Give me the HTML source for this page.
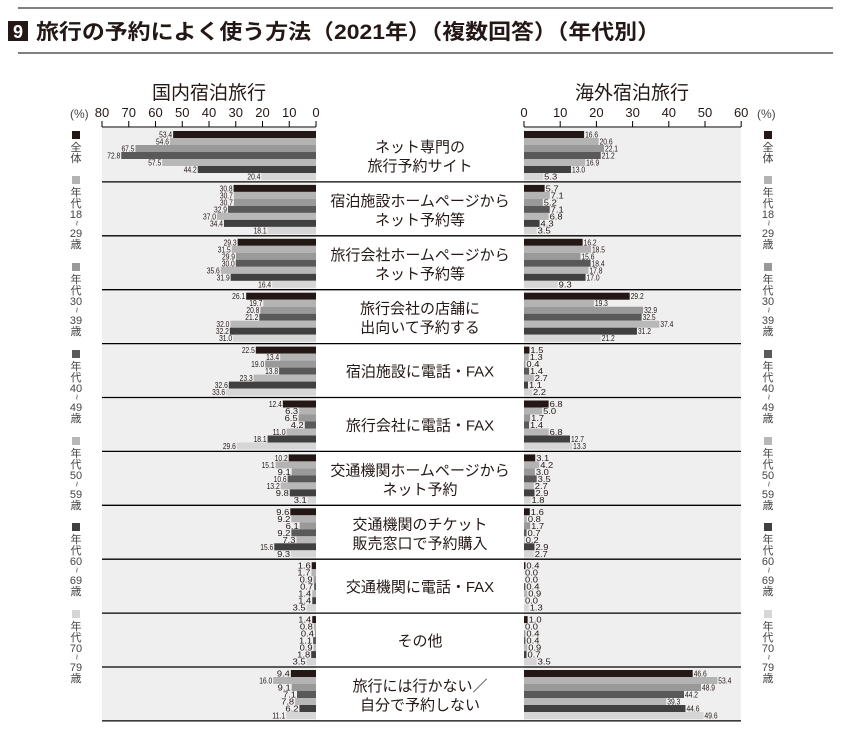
<!DOCTYPE html>
<html><head><meta charset="utf-8"><style>
body{margin:0;background:#fff;width:851px;height:733px;overflow:hidden;font-family:"Liberation Sans","Noto Sans CJK JP",sans-serif}
svg{display:block}
</style></head><body>
<svg id="s" width="851" height="733" xmlns="http://www.w3.org/2000/svg" font-family="Liberation Sans, Noto Sans CJK JP, sans-serif"></svg>
<script>
const L=[[53.4,54.6,67.5,72.8,57.5,44.2,20.4],[30.8,30.7,30.7,32.9,37.0,34.4,18.1],[29.3,31.5,29.9,30.0,35.6,31.9,16.4],[26.1,19.7,20.8,21.2,32.0,32.2,31.0],[22.5,13.4,19.0,13.8,23.3,32.6,33.6],[12.4,6.3,6.5,4.2,11.0,18.1,29.6],[10.2,15.1,9.1,10.6,13.2,9.8,3.1],[9.6,9.2,6.1,9.2,7.3,15.6,9.3],[1.6,1.7,0.9,0.7,1.4,1.4,3.5],[1.4,0.8,0.4,1.1,0.9,1.8,3.5],[9.4,16.0,9.1,7.1,7.8,6.2,11.1]];
const R=[[16.6,20.6,22.1,21.2,16.9,13.0,5.3],[5.7,7.1,5.2,7.1,6.8,4.3,3.5],[16.2,18.5,15.6,18.4,17.8,17.0,9.3],[29.2,19.3,32.9,32.5,37.4,31.2,21.2],[1.5,1.3,0.4,1.4,2.7,1.1,2.2],[6.8,5.0,1.7,1.4,6.8,12.7,13.3],[3.1,4.2,3.0,3.5,2.7,2.9,1.8],[1.6,0.8,1.7,0.7,0.2,2.9,2.7],[0.4,0.0,0.0,0.4,0.9,0.0,1.3],[1.0,0.0,0.4,0.4,0.9,0.7,3.5],[46.6,53.4,48.9,44.2,39.3,44.6,49.6]];
const labs=[["ネット専門の","旅行予約サイト"],["宿泊施設ホームページから","ネット予約等"],["旅行会社ホームページから","ネット予約等"],["旅行会社の店舗に","出向いて予約する"],["宿泊施設に電話・FAX"],["旅行会社に電話・FAX"],["交通機関ホームページから","ネット予約"],["交通機関のチケット","販売窓口で予約購入"],["交通機関に電話・FAX"],["その他"],["旅行には行かない／","自分で予約しない"]];
const C=["#231815","#b3b3b3","#999","#595959","#b8b8b8","#404040","#d6d6d6"];
let h='';
h+='<line x1="18" y1="8" x2="833" y2="8" stroke="#000" stroke-width="1"/>';
h+='<line x1="18" y1="53" x2="833" y2="53" stroke="#000" stroke-width="1"/>';
h+='<rect x="8" y="21" width="20" height="20" fill="#231815"/><text x="18" y="38" font-size="18" font-weight="bold" fill="#fff" text-anchor="middle">9</text>';
h+='<text x="36" y="39" font-size="21" font-weight="bold" fill="#231815" textLength="624" lengthAdjust="spacingAndGlyphs">旅行の予約によく使う方法（2021年）（複数回答）（年代別）</text>';
h+='<text x="209" y="99" font-size="19" text-anchor="middle" fill="#231815">国内宿泊旅行</text>';
h+='<text x="632" y="99" font-size="19" text-anchor="middle" fill="#231815">海外宿泊旅行</text>';
const X0=316,SL=2.675,XR=524,SR=3.62,T=128,RH=53.9;
h+='<rect x="102" y="'+T+'" width="214" height="'+(RH*11)+'" fill="#efefef"/>';
h+='<rect x="524" y="'+T+'" width="217" height="'+(RH*11)+'" fill="#efefef"/>';
h+='<text x="70" y="118" font-size="12" fill="#444">(%)</text><text x="757" y="118" font-size="12" fill="#444">(%)</text>';
h+='<line x1="102" y1="127" x2="316" y2="127" stroke="#000"/><line x1="524" y1="127" x2="741" y2="127" stroke="#000"/>';
for(let i=0;i<=8;i++){let x=X0-i*10*SL;h+=`<line x1="${x}" y1="121" x2="${x}" y2="127" stroke="#000"/><text x="${x}" y="117" font-size="13" text-anchor="middle" fill="#231815">${i*10}</text>`;}
for(let i=0;i<=6;i++){let x=XR+i*10*SR;h+=`<line x1="${x}" y1="121" x2="${x}" y2="127" stroke="#000"/><text x="${x}" y="117" font-size="13" text-anchor="middle" fill="#231815">${i*10}</text>`;}
for(let r=0;r<11;r++){
 let y0=T+r*RH;
 for(let k=0;k<7;k++){
  let y=y0+3+k*7;
  let w=L[r][k]*SL; h+=`<rect x="${X0-w}" y="${y}" width="${w}" height="7" fill="${C[k]}"/>`;
  h+=`<text x="${X0-w-1}" y="${y+6.5}" font-size="8" text-anchor="end" fill="#231815" textLength="13" lengthAdjust="spacingAndGlyphs">${L[r][k].toFixed(1)}</text>`;
  let w2=R[r][k]*SR; h+=`<rect x="${XR}" y="${y}" width="${w2}" height="7" fill="${C[k]}"/>`;
  h+=`<text x="${XR+w2+1}" y="${y+6.5}" font-size="8" fill="#231815" textLength="13" lengthAdjust="spacingAndGlyphs">${R[r][k].toFixed(1)}</text>`;
 }
 let l=labs[r],cy=y0+RH/2;
 if(l.length==1)h+=`<text x="420" y="${cy+6}" font-size="15" text-anchor="middle" fill="#231815">${l[0]}</text>`;
 else{h+=`<text x="420" y="${cy-3}" font-size="15" text-anchor="middle" fill="#231815">${l[0]}</text><text x="420" y="${cy+16}" font-size="15" text-anchor="middle" fill="#231815">${l[1]}</text>`;}
 h+=`<line x1="102" y1="${y0+RH}" x2="741" y2="${y0+RH}" stroke="#000" stroke-width="1.3"/>`;
}
const lg=[["全","体"],["年","代","18","~","29","歳"],["年","代","30","~","39","歳"],["年","代","40","~","49","歳"],["年","代","50","~","59","歳"],["年","代","60","~","69","歳"],["年","代","70","~","79","歳"]];
const ly=[131,176,263,350,437,523,610];
const yo=[0,11,22,31,41,52];
for(const lx of [76,768]){
 for(let k=0;k<7;k++){
  h+=`<rect x="${lx-4}" y="${ly[k]}" width="8" height="8" fill="${C[k]}"/>`;
  lg[k].forEach((c,j)=>{let yy=ly[k]+20+yo[j];
   if(c=="~"){let cyy=yy-4;h+=`<text x="${lx}" y="${cyy}" font-size="10" text-anchor="middle" dominant-baseline="central" fill="#444" transform="rotate(90 ${lx} ${cyy})">~</text>`;}
   else h+=`<text x="${lx}" y="${yy}" font-size="11" text-anchor="middle" fill="#444">${c}</text>`;});
 }
}
document.getElementById('s').innerHTML=h;
</script>
</body></html>
